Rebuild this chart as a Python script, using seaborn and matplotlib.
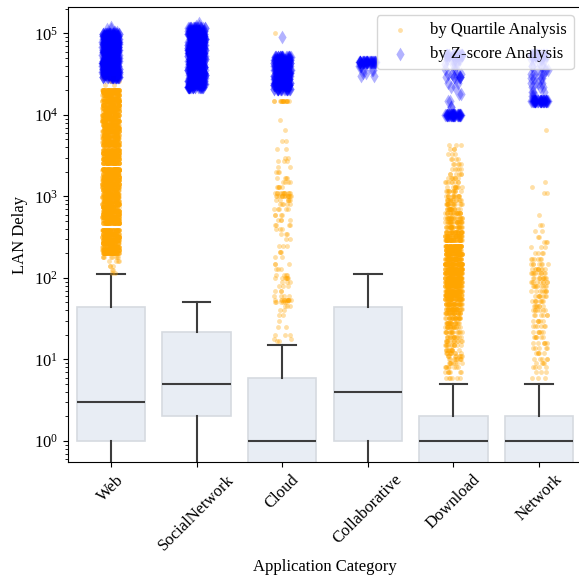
import numpy as np
import pandas as pd
import matplotlib
matplotlib.use('Agg')
import matplotlib.pyplot as plt
import seaborn as sns

plt.rcParams['font.family'] = ['Liberation Serif', 'DejaVu Serif']

categories = ['Web', 'SocialNetwork', 'Cloud', 'Collaborative', 'Download', 'Network']

# box statistics
box_q1 = [1, 2, 0, 1, 0, 0]
box_med = [3, 5, 1, 4, 1, 1]
box_q3 = [44, 22, 6, 44, 2, 2]
box_lo = [0, 0, 0, 0, 0, 0]
box_hi = [112, 51, 15, 112, 5, 5]

# outliers by quartile analysis (value levels and how many points sit there)
web_q_vals = [115, 125, 140, 160, 180, 200, 220, 240, 265, 290, 320, 350, 385,
              470, 510, 560, 610, 670, 740, 810, 890, 980, 1080, 1190, 1310, 1440,
              1580, 1740, 1910, 2100, 2200,
              2600, 2850, 3150, 3450, 3750,
              4300, 4700, 5200, 5700, 6300, 6900, 7600, 8400, 9200, 10100, 11100,
              12200, 13400, 14700, 15500,
              17500, 19000, 20000,
              23000, 26000, 28500]
web_q_counts = [2, 2, 3, 4, 8, 50, 50, 50, 50, 50, 50, 50, 50,
                50, 50, 50, 50, 50, 50, 50, 50, 50, 50, 50, 50, 50,
                50, 50, 50, 50, 50,
                50, 50, 50, 50, 50,
                50, 50, 50, 50, 50, 50, 50, 50, 50, 50, 50,
                50, 50, 50, 50,
                50, 50, 50,
                2, 3, 3]

social_q_vals = []
social_q_counts = []

cloud_q_vals = [100000, 15000, 8700, 6600, 4800, 3800, 3000, 2700, 2300, 2000, 1700,
                1500, 1300, 1100, 1000, 900, 800, 700, 600, 520, 450, 400, 350,
                300, 250, 210, 180, 150, 130, 110, 100, 90, 80, 70, 60, 54, 50,
                45, 40, 35, 30, 25, 20, 18, 17]
cloud_q_counts = [1, 15, 1, 1, 2, 2, 2, 3, 2, 3, 4,
                  4, 5, 12, 14, 6, 5, 5, 4, 4, 4, 3, 3,
                  2, 3, 3, 2, 3, 3, 4, 7, 3, 3, 3, 4, 12, 6,
                  3, 2, 2, 1, 2, 3, 2, 2]

collab_q_vals = []
collab_q_counts = []

download_q_vals = [4300, 3800, 3300, 2900, 2500, 2200, 1900, 1700, 1500, 1300, 1150,
                   1000, 900, 800, 700, 620, 550, 480, 420, 370, 330, 290, 250,
                   220, 195, 170, 150, 130, 115, 100, 90, 80, 70, 62, 55, 48, 42,
                   37, 32, 28, 25, 22, 19, 17, 15, 13, 12, 11, 10, 9, 8, 7, 6]
download_q_counts = [3, 3, 3, 4, 5, 5, 6, 7, 8, 9, 11,
                     13, 14, 16, 18, 20, 22, 25, 28, 32, 36, 40, 48,
                     55, 60, 65, 70, 70, 70, 70, 65, 60, 55, 50, 45, 40, 34,
                     28, 24, 20, 18, 16, 14, 13, 12, 11, 10, 9, 9, 8, 8, 7, 6]

network_q_vals = [6600, 1500, 1300, 1100, 600, 450, 380, 320, 280, 240, 200, 170,
                  150, 130, 115, 100, 90, 80, 70, 60, 52, 45, 40, 35, 30, 26, 22,
                  19, 16, 14, 12, 10, 9, 8, 7, 6]
network_q_counts = [1, 1, 1, 2, 1, 2, 2, 2, 3, 3, 4, 6,
                    7, 9, 10, 10, 9, 9, 8, 8, 8, 7, 7, 6, 6, 6, 6,
                    6, 6, 5, 5, 5, 4, 4, 3, 3]

# outliers by z-score analysis
web_z_vals = [29000, 31500, 34000, 37000, 40000, 43000, 46500, 50000, 54000, 58500,
              63000, 68000, 73500, 79000, 85000, 92000, 99000, 105000, 112000, 120000]
web_z_counts = [30, 30, 30, 30, 30, 30, 30, 30, 30, 30,
                30, 30, 30, 30, 30, 30, 30, 3, 2, 1]

social_z_vals = [22000, 24000, 26000, 28000, 30500, 33000, 36000, 39000, 42000, 45500,
                 49000, 53000, 57500, 62000, 67000, 72500, 78500, 85000, 92000, 99000,
                 107000, 115000, 125000, 135000]
social_z_counts = [30, 30, 30, 30, 30, 30, 30, 30, 30, 30,
                   30, 30, 30, 30, 30, 30, 30, 30, 30, 30,
                   30, 20, 2, 1]

cloud_z_vals = [21000, 23000, 25000, 27500, 30000, 33000, 36000, 39500, 43000, 47000,
                52000, 90000]
cloud_z_counts = [25, 25, 25, 25, 25, 25, 25, 25, 25, 25, 25, 1]

collab_z_vals = [45000, 40000, 36000, 33000, 30000]
collab_z_counts = [40, 4, 3, 2, 2]

download_z_vals = [55000, 48000, 42000, 37000, 32000, 29000, 25000, 22000, 18000,
                   15000, 12500, 10000]
download_z_counts = [25, 10, 4, 3, 3, 8, 2, 2, 2, 2, 2, 40]

network_z_vals = [55000, 48000, 40000, 36000, 32000, 28000, 25000, 22000, 19000,
                  17000, 15000]
network_z_counts = [25, 8, 4, 4, 4, 4, 4, 3, 3, 3, 40]


def expand(cat_vals, cat_counts):
    """Turn value levels and counts into a long table of points."""
    rows = []
    for cat, vals, counts in zip(categories, cat_vals, cat_counts):
        for v in np.repeat(vals, counts):
            rows.append((cat, v))
    return pd.DataFrame(rows, columns=['category', 'delay'])


quartile_df = expand(
    [web_q_vals, social_q_vals, cloud_q_vals, collab_q_vals, download_q_vals, network_q_vals],
    [web_q_counts, social_q_counts, cloud_q_counts, collab_q_counts, download_q_counts, network_q_counts])
zscore_df = expand(
    [web_z_vals, social_z_vals, cloud_z_vals, collab_z_vals, download_z_vals, network_z_vals],
    [web_z_counts, social_z_counts, cloud_z_counts, collab_z_counts, download_z_counts, network_z_counts])

np.random.seed(0)
fig = plt.figure(figsize=(5.79, 5.83), dpi=100)
ax = fig.add_axes([68 / 579, 121 / 583, 514 / 579, 455 / 583])

stats = []
for i, cat in enumerate(categories):
    stats.append({'label': cat, 'q1': box_q1[i], 'med': box_med[i], 'q3': box_q3[i],
                  'whislo': box_lo[i], 'whishi': box_hi[i], 'fliers': []})

ax.bxp(stats, positions=range(len(categories)), widths=0.8, capwidths=0.32,
       patch_artist=True, showfliers=False,
       boxprops=dict(facecolor='#e8edf4', edgecolor='#d6dae0', linewidth=1.2),
       medianprops=dict(color='#3d3d3d', linewidth=1.5),
       whiskerprops=dict(color='#3d3d3d', linewidth=1.5),
       capprops=dict(color='#3d3d3d', linewidth=1.5))

sns.stripplot(data=quartile_df, x='category', y='delay', order=categories, ax=ax,
              color='orange', alpha=0.35, size=3.5, jitter=True,
              label='by Quartile Analysis')
sns.stripplot(data=zscore_df, x='category', y='delay', order=categories, ax=ax,
              color='blue', marker='d', alpha=0.3, size=7, jitter=True,
              label='by Z-score Analysis')

ax.set_yscale('log')
ax.set_ylim(0.552, 211000)
ax.set_xlim(-0.5, 5.5)
ax.set_xticks(range(len(categories)))
ax.set_xticklabels(categories, rotation=45, fontsize=12)
ax.tick_params(axis='y', labelsize=12)
ax.set_xlabel('Application Category', fontsize=12)
ax.set_ylabel('LAN Delay', fontsize=12)
ax.spines['right'].set_visible(False)

handles, labels = ax.get_legend_handles_labels()
by_label = dict(zip(labels, handles))
ax.legend(by_label.values(), by_label.keys(), loc='upper right', fontsize=12)

fig.savefig('out.png', dpi=100)
